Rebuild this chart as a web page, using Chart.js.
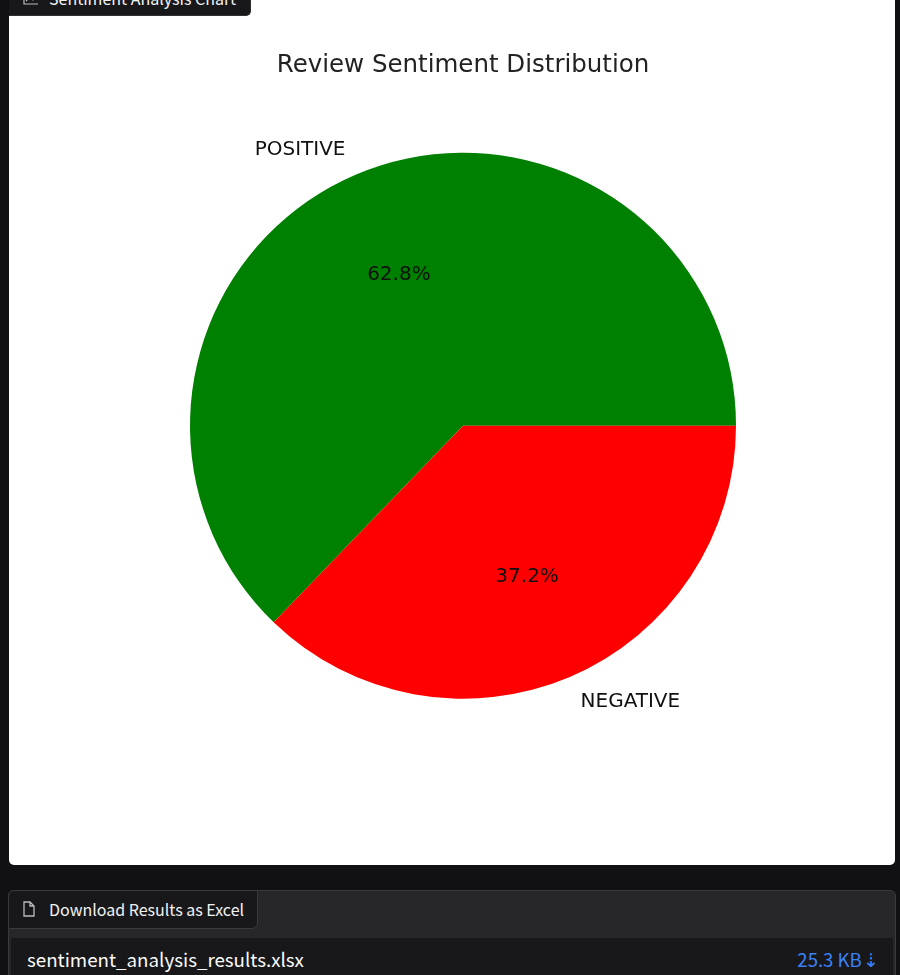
<!DOCTYPE html>
<html>
<head>
<meta charset="utf-8">
<script src="https://cdn.jsdelivr.net/npm/chart.js@4"></script>
<style>
html,body{margin:0;padding:0;width:900px;height:975px;overflow:hidden;background:#111114;font-family:"Noto Sans CJK SC","Noto Sans",sans-serif}
#card{position:absolute;left:9px;top:-6px;width:886px;height:871px;background:#fff;border-radius:5px;overflow:hidden}
#wrap{position:absolute;left:0;top:6px;width:886px;height:865px}
#tab{position:absolute;left:9px;top:-14px;width:241px;height:29px;background:#18181b;border-radius:0 0 5px 0;border:1px solid #303033;border-width:0 1px 1px 0;box-sizing:content-box;color:#f2f2f2;font-size:16px;line-height:29px;white-space:nowrap}
#tab span{position:absolute;left:40px;top:-2px}
#tab svg{position:absolute;left:13px;top:6px}
#panel{position:absolute;left:8px;top:890px;width:888px;height:100px;background:#27272a;border:1px solid #3a3a3d;border-radius:6px;box-sizing:border-box}
#dl{position:absolute;left:-1px;top:-1px;width:250px;height:39px;background:#18181b;border:1px solid #3a3a3d;border-radius:6px 0 6px 0;box-sizing:border-box;color:#f2f2f2;font-size:16px}
#dl span{position:absolute;left:40px;top:6px;line-height:24px;white-space:nowrap}
#dl svg{position:absolute;left:13px;top:10px}
#row{position:absolute;left:2px;top:47px;width:882px;height:60px;background:#18181b}
#fname{position:absolute;left:16px;top:6px;color:#fafafa;font-size:18.75px;line-height:30px;white-space:nowrap}
#size{position:absolute;right:14px;top:6px;color:#3b82f6;font-size:18.6px;line-height:30px;white-space:nowrap}
#size b{font-weight:normal;margin-left:-3px}
</style>
</head>
<body>
<div id="card"><div id="wrap"><canvas id="c"></canvas></div></div>
<div id="tab"><svg width="18" height="14" viewBox="0 0 18 14" fill="none" stroke="#bbb" stroke-width="1.2"><path d="M2 1v11h14M4 9l4-4 3 3 4-4"/></svg><span>Sentiment Analysis Chart</span></div>
<div id="panel">
  <div id="dl"><svg width="14" height="16" viewBox="0 0 14 16" fill="none" stroke="#bbb" stroke-width="1.3"><path d="M2 1h6l4 4v10H2zM8 1v4h4"/></svg><span>Download Results as Excel</span></div>
  <div id="row"><div id="fname">sentiment_analysis_results.xlsx</div><div id="size">25.3 KB <b>⇣</b></div></div>
</div>
<script>
const categories = ['POSITIVE', 'NEGATIVE'];
const shares = [62.8, 37.2];
const sliceColors = ['#008000', '#ff0000'];
const titleText = 'Review Sentiment Distribution';

const sliceText = {
  id: 'sliceText',
  afterDatasetsDraw(chart) {
    const ctx = chart.ctx;
    const arcs = chart.getDatasetMeta(0).data;
    ctx.save();
    ctx.fillStyle = '#111';
    ctx.font = '20px "DejaVu Sans"';
    ctx.textBaseline = 'middle';
    arcs.forEach((arc, i) => {
      const mid = (arc.startAngle + arc.endAngle) / 2;
      const r = arc.outerRadius;
      ctx.textAlign = 'center';
      ctx.fillText(shares[i].toFixed(1) + '%', arc.x + Math.cos(mid) * r * 0.6, arc.y + Math.sin(mid) * r * 0.6);
      const c = Math.cos(mid);
      ctx.textAlign = c < 0 ? 'right' : 'left';
      ctx.fillText(categories[i], arc.x + c * r * 1.1, arc.y + Math.sin(mid) * r * 1.1);
    });
    ctx.restore();
  }
};

new Chart(document.getElementById('c'), {
  type: 'pie',
  data: {
    labels: categories,
    datasets: [{ data: shares, backgroundColor: sliceColors, borderWidth: 0, hoverOffset: 0 }]
  },
  options: {
    responsive: true,
    maintainAspectRatio: false,
    animation: false,
    rotation: 90 + shares[1] * 3.6,
    layout: { padding: { left: 181, right: 159, top: 51, bottom: 166 } },
    plugins: {
      legend: { display: false },
      tooltip: { enabled: false },
      title: {
        display: true,
        text: titleText,
        color: '#222',
        font: { family: '"DejaVu Sans"', size: 24.5, weight: 'normal' },
        padding: { top: 0, bottom: 72 }
      }
    }
  },
  plugins: [sliceText]
});
</script>
</body>
</html>
